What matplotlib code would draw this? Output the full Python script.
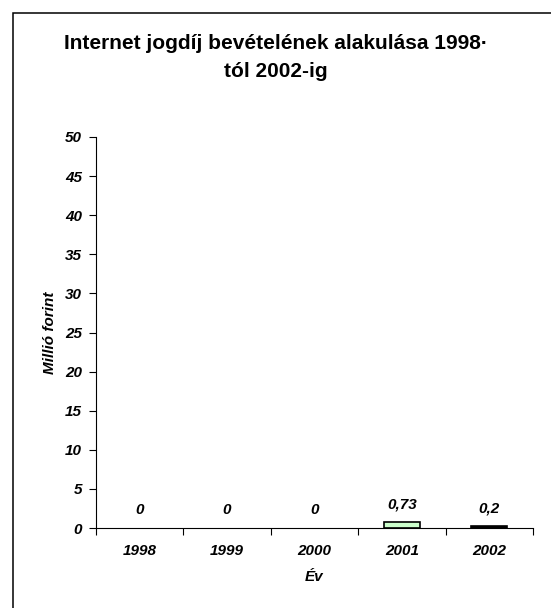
import matplotlib.pyplot as plt
from matplotlib.patches import Rectangle

plt.rcParams['font.family'] = ['Liberation Sans', 'DejaVu Sans']

years = ['1998', '1999', '2000', '2001', '2002']
values = [0, 0, 0, 0.73, 0.2]
labels = ['0', '0', '0', '0,73', '0,2']
colors = ['#ccffcc', '#ccffcc', '#ccffcc', '#ccffcc', '#000000']

fig = plt.figure(figsize=(5.51, 6.08), dpi=100)
# outer chart frame (runs off the right and bottom edges)
fig.patches.append(Rectangle((13 / 551, -0.1), 1.2, 1 - 12.5 / 608 + 0.1,
                             transform=fig.transFigure, fill=False,
                             edgecolor='black', linewidth=1.1))

ax = fig.add_axes([96 / 551, 1 - 528 / 608, (533 - 96) / 551, (528 - 137) / 608])
x = range(len(years))
edges = ['black' if v > 0 else 'none' for v in values]
ax.bar(x, values, width=0.41, color=colors, edgecolor=edges, linewidth=1.2)
for xi, v, lab in zip(x, values, labels):
    ax.annotate(lab, (xi, v), xytext=(0, 8), textcoords='offset points',
                ha='center', va='bottom', fontsize=11, fontweight='bold', fontstyle='italic')

ax.set_xlim(-0.5, 4.5)
ax.set_ylim(0, 50)
ax.set_yticks(range(0, 51, 5))
ax.set_xticks([i - 0.5 for i in range(6)], minor=False)
ax.set_xticklabels([])
ax.set_xticks(list(x), minor=True)
ax.set_xticklabels(years, minor=True)
ax.tick_params(axis='x', which='minor', length=0, pad=11.5)
ax.tick_params(axis='x', which='major', length=5, direction='out')
ax.tick_params(axis='y', length=5, direction='out', pad=5)
for t in ax.get_xticklabels(minor=True) + ax.get_yticklabels():
    t.set_fontsize(11)
    t.set_fontweight('bold')
    t.set_fontstyle('italic')
for s in ['top', 'right']:
    ax.spines[s].set_visible(False)

ax.set_xlabel('Év', fontsize=11, fontweight='bold', fontstyle='italic', labelpad=9)
ax.set_ylabel('Millió forint', fontsize=11, fontweight='bold', fontstyle='italic', labelpad=6)

fig.text(0.5, 1 - 57.5 / 608, 'Internet jogdíj bevételének alakulása 1998·\ntól 2002-ig',
         ha='center', va='center', fontsize=15, fontweight='bold', linespacing=1.55)

plt.savefig('out.png', dpi=100)
